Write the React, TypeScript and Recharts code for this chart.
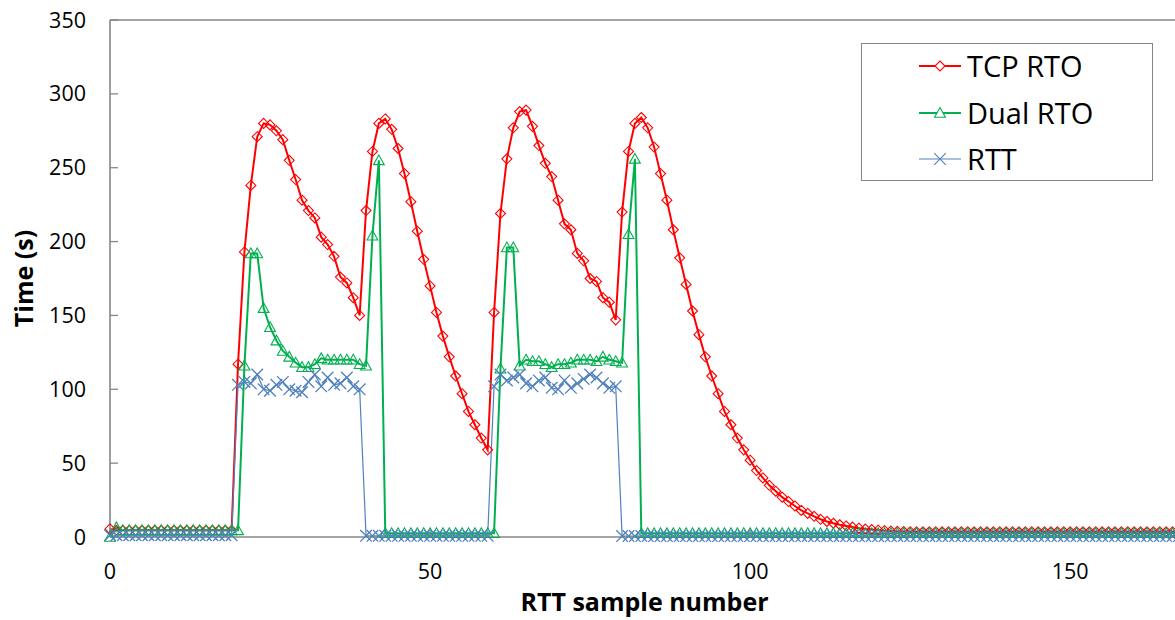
import React from 'react';
import { LineChart, Line, XAxis, YAxis, ReferenceLine, Label } from 'recharts';

const seriesNames = ['TCP RTO', 'Dual RTO', 'RTT'];
const xTitle = 'RTT sample number';
const yTitle = 'Time (s)';
const xTicks = [0, 50, 100, 150];
const yTicks = [0, 50, 100, 150, 200, 250, 300, 350];

const tcpRto = [
  5.5, 4.5, 4.5, 4.5, 4.5, 4.5, 4.5, 4.5, 4.5, 4.5,
  4.5, 4.5, 4.5, 4.5, 4.5, 4.5, 4.5, 4.5, 4.5, 4.5,
  117, 193, 238, 271, 280, 279, 275, 269, 255, 242,
  228, 221, 216, 203, 198, 190, 176, 172, 162, 150,
  221, 261, 280, 283, 276, 263, 246, 227, 207, 188,
  170, 152, 136, 122, 109, 97, 85, 76, 67, 59,
  152, 219, 256, 277, 288, 289, 278, 265, 253, 244,
  228, 212, 208, 192, 187, 175, 173, 162, 159, 147,
  220, 261, 280, 284, 277, 264, 246, 228, 208, 189,
  171, 153, 137, 122, 109, 97, 85, 76, 67, 59,
  52, 45, 40, 35, 31, 27, 24, 21, 18, 16,
  14, 12, 10.5, 9.3, 8.3, 7.5, 6.7, 6, 5.4, 5,
  4.6, 4.3, 4, 3.8, 3.7, 3.6, 3.5, 3.5, 3.5, 3.5,
  3.5, 3.5, 3.5, 3.5, 3.5, 3.5, 3.5, 3.5, 3.5, 3.5,
  3.5, 3.5, 3.5, 3.5, 3.5, 3.5, 3.5, 3.5, 3.5, 3.5,
  3.5, 3.5, 3.5, 3.5, 3.5, 3.5, 3.5, 3.5, 3.5, 3.5,
  3.5, 3.5, 3.5, 3.5, 3.5, 3.5, 3.5, 3.5,
];

const dualRto = [
  0, 6.5, 4.5, 4.5, 4.5, 4.5, 4.5, 4.5, 4.5, 4.5,
  4.5, 4.5, 4.5, 4.5, 4.5, 4.5, 4.5, 4.5, 4.5, 4.5,
  4.5, 116, 192, 192, 155, 142, 133, 126, 122, 118,
  115, 115, 117, 121, 120, 120, 120, 120, 120, 117,
  116, 204, 255, 2.6, 2.6, 2.6, 2.6, 2.6, 2.6, 2.6,
  2.6, 2.6, 2.6, 2.6, 2.6, 2.6, 2.6, 2.6, 2.6, 2.6,
  2.6, 114, 196, 196, 116, 120, 119, 119, 117, 115,
  117, 117, 118, 120, 120, 120, 119, 122, 120, 119,
  118, 205, 256, 2.6, 2.6, 2.6, 2.6, 2.6, 2.6, 2.6,
  2.6, 2.6, 2.6, 2.6, 2.6, 2.6, 2.6, 2.6, 2.6, 2.6,
  2.6, 2.6, 2.6, 2.6, 2.6, 2.6, 2.6, 2.6, 2.6, 2.6,
  2.6, 2.6, 2.6, 2.6, 2.6, 2.6, 2.6, 2.6, 2.6, 2.6,
  2.6, 2.6, 2.6, 2.6, 2.6, 2.6, 2.6, 2.6, 2.6, 2.6,
  2.6, 2.6, 2.6, 2.6, 2.6, 2.6, 2.6, 2.6, 2.6, 2.6,
  2.6, 2.6, 2.6, 2.6, 2.6, 2.6, 2.6, 2.6, 2.6, 2.6,
  2.6, 2.6, 2.6, 2.6, 2.6, 2.6, 2.6, 2.6, 2.6, 2.6,
  2.6, 2.6, 2.6, 2.6, 2.6, 2.6, 2.6, 2.6,
];

const rtt = [
  1.2, 1.2, 1.2, 1.2, 1.2, 1.2, 1.2, 1.2, 1.2, 1.2,
  1.2, 1.2, 1.2, 1.2, 1.2, 1.2, 1.2, 1.2, 1.2, 1.2,
  103, 105, 104, 110, 100, 99, 103, 105, 100, 99,
  98, 105, 110, 102, 108, 103, 104, 108, 102, 100,
  0.8, 0.8, 0.8, 0.8, 0.8, 0.8, 0.8, 0.8, 0.8, 0.8,
  0.8, 0.8, 0.8, 0.8, 0.8, 0.8, 0.8, 0.8, 0.8, 0.8,
  102, 110, 106, 108, 110, 104, 102, 106, 108, 101,
  100, 106, 101, 104, 107, 110, 108, 104, 101, 102,
  0.6, 0.6, 0.6, 0.6, 0.6, 0.6, 0.6, 0.6, 0.6, 0.6,
  0.6, 0.6, 0.6, 0.6, 0.6, 0.6, 0.6, 0.6, 0.6, 0.6,
  0.6, 0.6, 0.6, 0.6, 0.6, 0.6, 0.6, 0.6, 0.6, 0.6,
  0.6, 0.6, 0.6, 0.6, 0.6, 0.6, 0.6, 0.6, 0.6, 0.6,
  0.6, 0.6, 0.6, 0.6, 0.6, 0.6, 0.6, 0.6, 0.6, 0.6,
  0.6, 0.6, 0.6, 0.6, 0.6, 0.6, 0.6, 0.6, 0.6, 0.6,
  0.6, 0.6, 0.6, 0.6, 0.6, 0.6, 0.6, 0.6, 0.6, 0.6,
  0.6, 0.6, 0.6, 0.6, 0.6, 0.6, 0.6, 0.6, 0.6, 0.6,
  0.6, 0.6, 0.6, 0.6, 0.6, 0.6, 0.6, 0.6,
];

const data = tcpRto.map((v, i) => ({ x: i, tcp: v, dual: dualRto[i], rtt: rtt[i] }));

const RED = '#FF0000';
const GREEN = '#00B050';
const BLUE = '#4F81BD';
const AXIS = '#868686';
const FONT = '"Open Sans", "Noto Sans", sans-serif';

const diamondPath = (cx: number, cy: number, s: number) =>
  `M${cx},${cy - s}L${cx + s},${cy}L${cx},${cy + s}L${cx - s},${cy}Z`;
const trianglePath = (cx: number, cy: number, s: number) =>
  `M${cx},${cy - s}L${cx + s},${cy + s * 0.8}L${cx - s},${cy + s * 0.8}Z`;
const crossPath = (cx: number, cy: number, s: number) =>
  `M${cx - s},${cy - s}L${cx + s},${cy + s}M${cx - s},${cy + s}L${cx + s},${cy - s}`;

const makeDot = (kind: 'd' | 't' | 'x', color: string) => (p: any) => {
  const { cx, cy, index } = p;
  if (cx == null || cy == null) return <g key={`${kind}${index}`} />;
  const d = kind === 'd' ? diamondPath(cx, cy, 5) : kind === 't' ? trianglePath(cx, cy, 5.4) : crossPath(cx, cy, 5.8);
  return <path key={`${kind}${index}`} d={d} fill="none" stroke={color} strokeWidth={kind === 'x' ? 1.3 : 1.1} />;
};

const legendItems = [
  { name: seriesNames[0], color: RED, kind: 'd' as const, width: 2 },
  { name: seriesNames[1], color: GREEN, kind: 't' as const, width: 2 },
  { name: seriesNames[2], color: BLUE, kind: 'x' as const, width: 1.2 },
];

export default function App() {
  return (
    <div
      style={{
        position: 'fixed',
        left: 0,
        top: 0,
        width: 1175,
        height: 620,
        overflow: 'hidden',
        background: '#fff',
        fontFamily: FONT,
      }}
    >
      <LineChart
        width={1180}
        height={620}
        data={data}
        margin={{ top: 20, right: 1, left: 0, bottom: 0 }}
        style={{ fontFamily: FONT }}
      >
        <XAxis
          dataKey="x"
          type="number"
          domain={[0, 167]}
          ticks={xTicks}
          interval={0}
          height={83}
          axisLine={{ stroke: AXIS, strokeWidth: 1.6 }}
          tickLine={{ stroke: AXIS, strokeWidth: 1.3 }}
          tickSize={-8}
          tickMargin={35}
          tick={{ fill: '#000', fontSize: 21.5, fontFamily: FONT }}
        >
          <Label
            content={(props: any) => {
              const vb = props.viewBox || { x: 110, y: 537, width: 1069, height: 83 };
              return (
                <text
                  x={vb.x + vb.width / 2}
                  y={vb.y + 74}
                  textAnchor="middle"
                  fontFamily={FONT}
                  fontWeight="bold"
                  fontSize={25}
                  fill="#000"
                >
                  {xTitle}
                </text>
              );
            }}
          />
        </XAxis>
        <YAxis
          type="number"
          domain={[0, 350]}
          ticks={yTicks}
          interval={0}
          width={110}
          axisLine={{ stroke: AXIS, strokeWidth: 1.6 }}
          tickLine={{ stroke: AXIS, strokeWidth: 1.3 }}
          tickSize={-8}
          tickMargin={32}
          tick={{ fill: '#000', fontSize: 21.5, fontFamily: FONT }}
        >
          <Label
            content={(props: any) => {
              const vb = props.viewBox || { x: 0, y: 20, width: 110, height: 517 };
              const cx = vb.x + 23;
              const cy = vb.y + vb.height / 2;
              return (
                <text
                  transform={`translate(${cx}, ${cy}) rotate(-90)`}
                  textAnchor="middle"
                  dominantBaseline="central"
                  fontFamily={FONT}
                  fontWeight="bold"
                  fontSize={25}
                  fill="#000"
                >
                  {yTitle}
                </text>
              );
            }}
          />
        </YAxis>
        <ReferenceLine y={350} stroke={AXIS} strokeWidth={1.5} ifOverflow="visible" />
        <Line
          type="linear"
          dataKey="tcp"
          name={seriesNames[0]}
          stroke={RED}
          strokeWidth={2}
          dot={makeDot('d', RED)}
          activeDot={false}
          isAnimationActive={false}
        />
        <Line
          type="linear"
          dataKey="dual"
          name={seriesNames[1]}
          stroke={GREEN}
          strokeWidth={2}
          dot={makeDot('t', GREEN)}
          activeDot={false}
          isAnimationActive={false}
        />
        <Line
          type="linear"
          dataKey="rtt"
          name={seriesNames[2]}
          stroke={BLUE}
          strokeWidth={1.2}
          dot={makeDot('x', BLUE)}
          activeDot={false}
          isAnimationActive={false}
        />
      </LineChart>
      <div
        style={{
          position: 'absolute',
          left: 861,
          top: 43,
          width: 292,
          height: 138,
          boxSizing: 'border-box',
          border: `1.5px solid ${AXIS}`,
          background: '#fff',
        }}
      >
        {legendItems.map((it, i) => {
          const rowY = [22, 68.5, 115][i];
          return (
            <div
              key={it.name}
              style={{
                position: 'absolute',
                left: 56,
                top: rowY - 20,
                height: 40,
                display: 'flex',
                alignItems: 'center',
                whiteSpace: 'nowrap',
              }}
            >
              <svg width={44} height={20} style={{ display: 'block' }}>
                <line x1={1} y1={10} x2={43} y2={10} stroke={it.color} strokeWidth={it.width} />
                <path
                  d={
                    it.kind === 'd'
                      ? diamondPath(22, 10, 5)
                      : it.kind === 't'
                      ? trianglePath(22, 10, 5.4)
                      : crossPath(22, 10, 5.8)
                  }
                  fill="#fff"
                  stroke={it.color}
                  strokeWidth={1.1}
                />
              </svg>
              <span style={{ marginLeft: 5, fontSize: 29, color: '#000', fontFamily: FONT, lineHeight: '40px' }}>
                {it.name}
              </span>
            </div>
          );
        })}
      </div>
    </div>
  );
}
